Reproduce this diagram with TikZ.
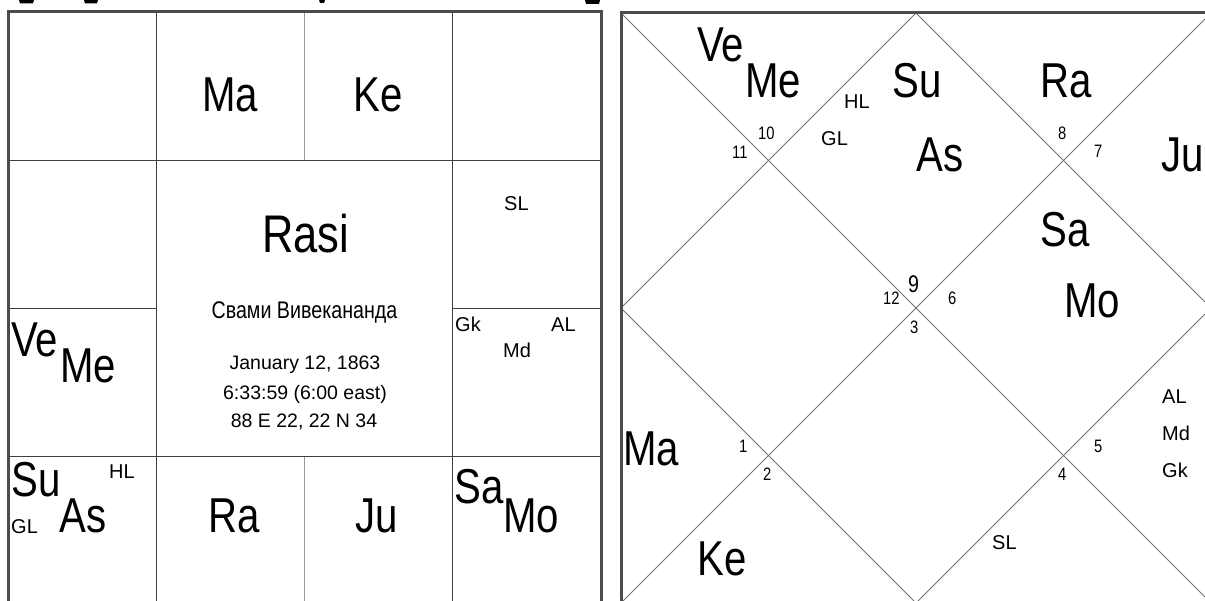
\documentclass[tikz,border=0pt]{standalone}
\usepackage{fontspec}
\setmainfont{Liberation Sans}
\newfontfamily\narrowfont[FakeStretch=0.82]{Liberation Sans}
\tikzset{
  planet/.style={font=\narrowfont\fontsize{49}{49}\selectfont, inner sep=0pt, anchor=base west},
  lbl/.style={font=\fontsize{20}{20}\selectfont, inner sep=0pt, anchor=base west},
  num/.style={font=\narrowfont\fontsize{18}{18}\selectfont, inner sep=0pt, anchor=base west},
  info/.style={font=\fontsize{19.5}{19.5}\selectfont, inner sep=0pt, anchor=base},
  frameline/.style={draw=black!70, line width=3pt},
  gridline/.style={draw=black!75, line width=1pt},
  lightline/.style={draw=black!40, line width=1pt},
  diagline/.style={draw=black!55, line width=0.8pt},
  frag/.style={fill=black, draw=none},
}
\begin{document}
\begin{tikzpicture}[x=1pt,y=-1pt]
\useasboundingbox (0,0) rectangle (1205,601);
\clip (0,0) rectangle (1205,601);
\fill[white] (0,0) rectangle (1205,601);

% fragments of a cut-off title above
\fill[frag] (19,0) -- (34,0) -- (33,3.5) -- (20,3.5) -- cycle;
\fill[frag] (84,0) -- (98,0) -- (97,3.5) -- (85,3.5) -- cycle;
\fill[frag] (319,0) -- (325,0) -- (324,3) -- (320,3) -- cycle;
\fill[frag] (585,0) -- (600,0) -- (599,4) -- (586,4) -- cycle;

% ---------------- left chart (South Indian) ----------------
\coordinate (L00) at (8,12);
\coordinate (L11) at (601,605);
\coordinate (c1t) at (156.25,12);   \coordinate (c1b) at (156.25,605);
\coordinate (c3t) at (452.75,12);   \coordinate (c3b) at (452.75,605);
\coordinate (c2t) at (304.5,12);    \coordinate (c2m) at (304.5,160.25);
\coordinate (c2n) at (304.5,456.75); \coordinate (c2b) at (304.5,605);
\coordinate (r1l) at (8,160.25);    \coordinate (r1r) at (601,160.25);
\coordinate (r3l) at (8,456.75);    \coordinate (r3r) at (601,456.75);
\coordinate (r2l) at (8,308.5);     \coordinate (r2a) at (156.25,308.5);
\coordinate (r2b) at (452.75,308.5); \coordinate (r2r) at (601,308.5);

\draw[gridline] (r1l) -- (r1r);
\draw[gridline] (r3l) -- (r3r);
\draw[gridline] (r2l) -- (r2a);
\draw[gridline] (r2b) -- (r2r);
\draw[gridline] (c1t) -- (c1b);
\draw[gridline] (c3t) -- (c3b);
\draw[lightline] (c2t) -- (c2m);
\draw[lightline] (c2n) -- (c2b);
\draw[frameline] (L00) rectangle (L11);

\node[planet, anchor=base] (lMa) at (230,112) {Ma};
\node[planet, anchor=base] (lKe) at (378,112) {Ke};
\node[font=\narrowfont\fontsize{53}{53}\selectfont, inner sep=0pt, anchor=base] (lRasi) at (305.5,253) {Rasi};
\node[font=\narrowfont\fontsize{24}{24}\selectfont, inner sep=0pt, anchor=base] (lName) at (304.5,319) {Свами Вивекананда};
\node[info] (lDate) at (305,370) {January 12, 1863};
\node[info] (lTime) at (305,400) {6:33:59 (6:00 east)};
\node[info] (lPlace) at (304,428) {88 E 22, 22 N 34};
\node[lbl] (lSL) at (504,211) {SL};
\node[lbl] (lGk) at (455,332) {Gk};
\node[lbl] (lAL) at (551,332) {AL};
\node[lbl] (lMd) at (503,358) {Md};
\node[planet] (lVe) at (11,357) {Ve};
\node[planet] (lMe) at (60,383) {Me};
\node[planet] (lSu) at (11,496) {Su};
\node[planet] (lAs) at (59,532) {As};
\node[lbl] (lHL) at (109,478) {HL};
\node[lbl] (lGL) at (11,533) {GL};
\node[planet] (lRa) at (208,532) {Ra};
\node[planet] (lJu) at (355,532) {Ju};
\node[planet] (lSa) at (454,503) {Sa};
\node[planet] (lMo) at (503,532) {Mo};

% ---------------- right chart (North Indian) ----------------
\coordinate (TL) at (621,13);
\coordinate (TR) at (1211,13);
\coordinate (BL) at (621,603);
\coordinate (BR) at (1211,603);
\coordinate (MT) at (916,13);
\coordinate (MR) at (1211,308);
\coordinate (MB) at (916,603);
\coordinate (ML) at (621,308);

\draw[diagline] (TL) -- (BR);
\draw[diagline] (TR) -- (BL);
\draw[diagline] (MT) -- (MR) -- (MB) -- (ML) -- cycle;
\draw[frameline] (TL) rectangle (BR);

\node[planet] (rVe) at (697,62) {Ve};
\node[planet] (rMe) at (745,98) {Me};
\node[lbl] (rHL) at (844,109) {HL};
\node[lbl] (rGL) at (821,146) {GL};
\node[planet] (rSu) at (892,98) {Su};
\node[planet] (rAs) at (916,172) {As};
\node[planet] (rRa) at (1040,98) {Ra};
\node[planet] (rJu) at (1161,172) {Ju};
\node[planet] (rSa) at (1040,247) {Sa};
\node[planet] (rMo) at (1064,318) {Mo};
\node[lbl] (rAL) at (1162,404) {AL};
\node[lbl] (rMd) at (1162,440) {Md};
\node[lbl] (rGk) at (1162,477) {Gk};
\node[planet] (rMa) at (623,465) {Ma};
\node[planet] (rKe) at (697,575) {Ke};
\node[lbl] (rSL) at (992,549) {SL};

\node[num] (n10) at (758,140) {10};
\node[num] (n11) at (732,159) {11};
\node[num] (n8) at (1058,140) {8};
\node[num] (n7) at (1094,158) {7};
\node[font=\narrowfont\fontsize{24}{24}\selectfont, inner sep=0pt, anchor=base west] (n9) at (908,293) {9};
\node[num] (n12) at (883,305) {12};
\node[num] (n6) at (948,305) {6};
\node[num] (n3) at (910,334) {3};
\node[num] (n1) at (739,453) {1};
\node[num] (n2) at (763,480) {2};
\node[num] (n5) at (1094,453) {5};
\node[num] (n4) at (1058,480) {4};
\end{tikzpicture}
\end{document}
